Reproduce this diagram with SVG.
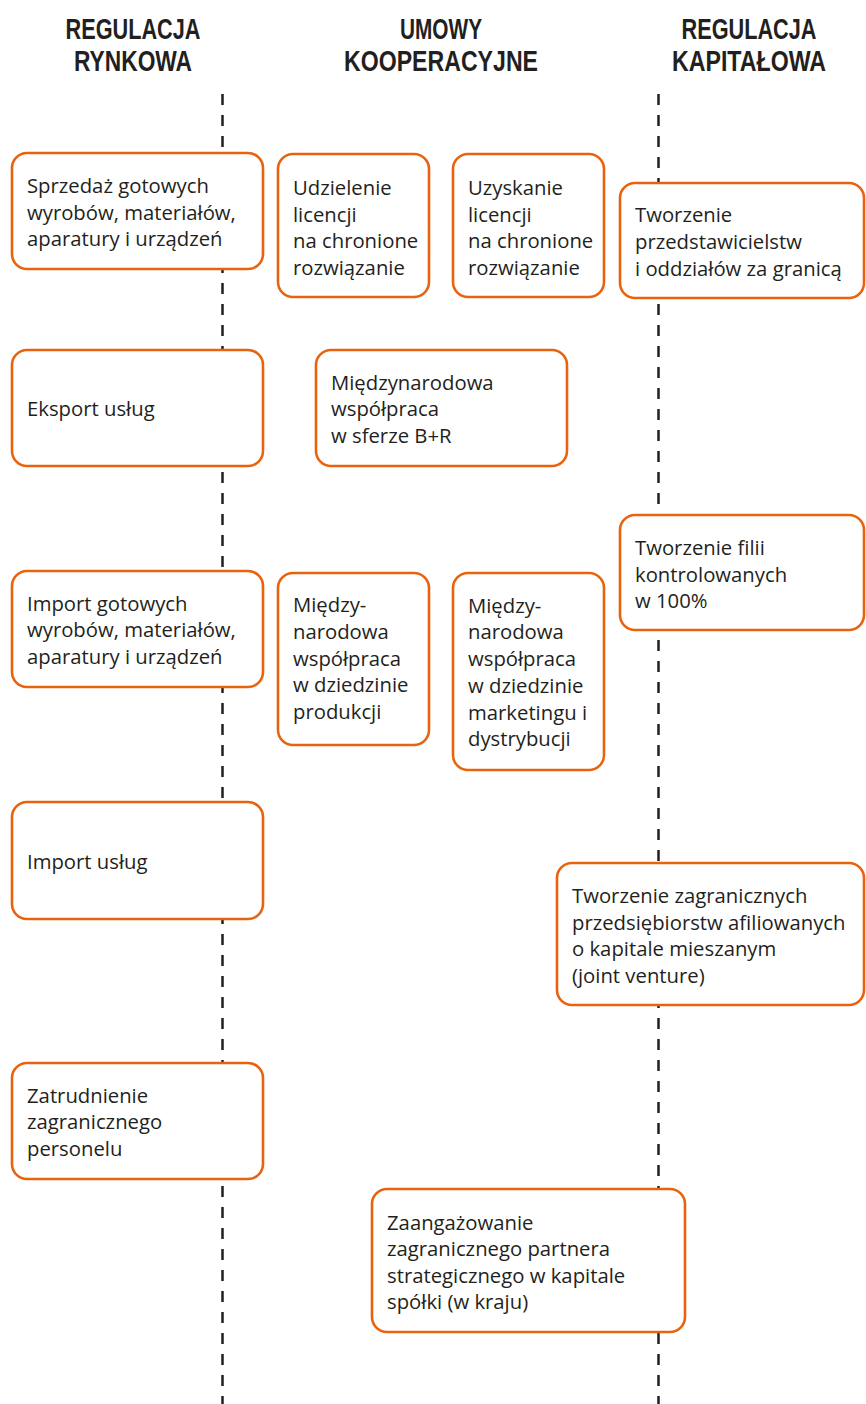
<svg xmlns="http://www.w3.org/2000/svg" width="866" height="1404" viewBox="0 0 866 1404">
<style>
.hd{font-family:"Liberation Sans Narrow","Liberation Sans",Arial,sans-serif;font-weight:bold;font-size:29px;fill:#231f20;text-anchor:middle}
.bx{fill:#fff;stroke:#E9630E;stroke-width:2.6}
.tx{font-family:"Open Sans","Noto Sans",sans-serif;font-size:20.3px;fill:#231f20}
.dl{stroke:#231f20;stroke-width:2.5;stroke-dasharray:11 10;fill:none}
</style>
<rect width="866" height="1404" fill="#fff"/>
<g id="headers">
<text class="hd" x="133" y="39" textLength="135" lengthAdjust="spacingAndGlyphs">REGULACJA</text>
<text class="hd" x="133" y="71" textLength="118" lengthAdjust="spacingAndGlyphs">RYNKOWA</text>
<text class="hd" x="441" y="39" textLength="82" lengthAdjust="spacingAndGlyphs">UMOWY</text>
<text class="hd" x="441" y="71" textLength="194" lengthAdjust="spacingAndGlyphs">KOOPERACYJNE</text>
<text class="hd" x="749" y="39" textLength="135" lengthAdjust="spacingAndGlyphs">REGULACJA</text>
<text class="hd" x="749" y="71" textLength="154" lengthAdjust="spacingAndGlyphs">KAPITAŁOWA</text>
</g>
<g id="connectors">
<line class="dl" x1="222.5" y1="94" x2="222.5" y2="1404"/>
<line class="dl" x1="658.5" y1="94" x2="658.5" y2="1404"/>
</g>
<g id="n1"><rect class="bx" x="12" y="153" width="251" height="116" rx="15"/>
<text class="tx" x="27" y="193">Sprzedaż gotowych</text><text class="tx" x="27" y="220">wyrobów, materiałów,</text><text class="tx" x="27" y="246">aparatury i urządzeń</text></g>
<g id="n2"><rect class="bx" x="278" y="154" width="151" height="143" rx="15"/>
<text class="tx" x="293" y="195">Udzielenie</text><text class="tx" x="293" y="222">licencji</text><text class="tx" x="293" y="248">na chronione</text><text class="tx" x="293" y="275">rozwiązanie</text></g>
<g id="n3"><rect class="bx" x="453" y="154" width="151" height="143" rx="15"/>
<text class="tx" x="468" y="195">Uzyskanie</text><text class="tx" x="468" y="222">licencji</text><text class="tx" x="468" y="248">na chronione</text><text class="tx" x="468" y="275">rozwiązanie</text></g>
<g id="n4"><rect class="bx" x="620" y="183" width="244" height="115" rx="15"/>
<text class="tx" x="635" y="222">Tworzenie</text><text class="tx" x="635" y="249">przedstawicielstw</text><text class="tx" x="635" y="276">i oddziałów za granicą</text></g>
<g id="n5"><rect class="bx" x="12" y="350" width="251" height="116" rx="15"/>
<text class="tx" x="27" y="416">Eksport usług</text></g>
<g id="n6"><rect class="bx" x="316" y="350" width="251" height="116" rx="15"/>
<text class="tx" x="331" y="390">Międzynarodowa</text><text class="tx" x="331" y="416">współpraca</text><text class="tx" x="331" y="443">w sferze B+R</text></g>
<g id="n7"><rect class="bx" x="620" y="515" width="244" height="115" rx="15"/>
<text class="tx" x="635" y="555">Tworzenie filii</text><text class="tx" x="635" y="582">kontrolowanych</text><text class="tx" x="635" y="608">w 100%</text></g>
<g id="n8"><rect class="bx" x="12" y="571" width="251" height="116" rx="15"/>
<text class="tx" x="27" y="611">Import gotowych</text><text class="tx" x="27" y="637">wyrobów, materiałów,</text><text class="tx" x="27" y="664">aparatury i urządzeń</text></g>
<g id="n9"><rect class="bx" x="278" y="573" width="151" height="172" rx="15"/>
<text class="tx" x="293" y="612">Między-</text><text class="tx" x="293" y="639">narodowa</text><text class="tx" x="293" y="666">współpraca</text><text class="tx" x="293" y="692">w dziedzinie</text><text class="tx" x="293" y="719">produkcji</text></g>
<g id="n10"><rect class="bx" x="453" y="573" width="151" height="197" rx="15"/>
<text class="tx" x="468" y="613">Między-</text><text class="tx" x="468" y="639">narodowa</text><text class="tx" x="468" y="666">współpraca</text><text class="tx" x="468" y="693">w dziedzinie</text><text class="tx" x="468" y="720">marketingu i</text><text class="tx" x="468" y="746">dystrybucji</text></g>
<g id="n11"><rect class="bx" x="12" y="802" width="251" height="117" rx="15"/>
<text class="tx" x="27" y="869">Import usług</text></g>
<g id="n12"><rect class="bx" x="557" y="863" width="307" height="142" rx="15"/>
<text class="tx" x="572" y="903">Tworzenie zagranicznych</text><text class="tx" x="572" y="930">przedsiębiorstw afiliowanych</text><text class="tx" x="572" y="956">o kapitale mieszanym</text><text class="tx" x="572" y="983">(joint venture)</text></g>
<g id="n13"><rect class="bx" x="12" y="1063" width="251" height="116" rx="15"/>
<text class="tx" x="27" y="1103">Zatrudnienie</text><text class="tx" x="27" y="1129">zagranicznego</text><text class="tx" x="27" y="1156">personelu</text></g>
<g id="n14"><rect class="bx" x="372" y="1189" width="313" height="143" rx="15"/>
<text class="tx" x="387" y="1230">Zaangażowanie</text><text class="tx" x="387" y="1256">zagranicznego partnera</text><text class="tx" x="387" y="1283">strategicznego w kapitale</text><text class="tx" x="387" y="1309">spółki (w kraju)</text></g>
</svg>
